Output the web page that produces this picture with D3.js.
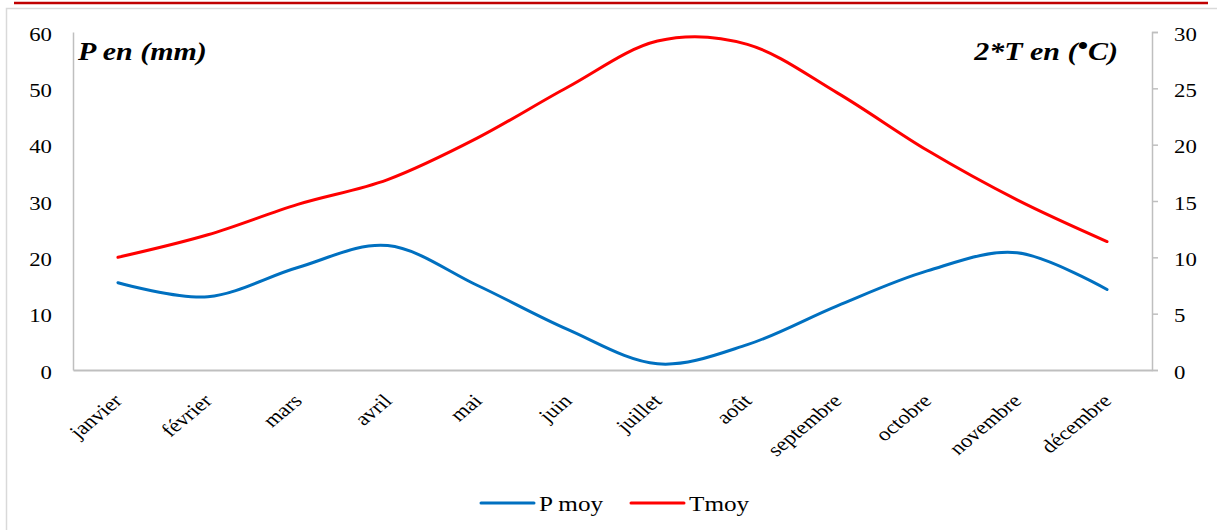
<!DOCTYPE html>
<html><head><meta charset="utf-8">
<script src="https://cdn.jsdelivr.net/npm/d3@7"></script>
<style>
html,body{margin:0;padding:0;background:#fff;}
svg{display:block;}
svg text{font-family:"Liberation Serif","Times New Roman",serif !important;}
</style></head>
<body>
<svg id="chart" width="1217" height="530"></svg>
<script>
const months = ["janvier","février","mars","avril","mai","juin","juillet","août","septembre","octobre","novembre","décembre"];
const pMoy = [15.5, 13.0, 18.2, 22.1, 15.0, 7.2, 1.1, 4.5, 11.4, 17.6, 20.8, 14.3];
const tMoy = [10.0, 12.0, 14.7, 16.9, 20.6, 25.1, 29.2, 28.9, 24.6, 19.5, 15.1, 11.4];
const leftTicks = [0, 10, 20, 30, 40, 50, 60];
const rightTicks = [0, 5, 10, 15, 20, 25, 30];
const seriesNames = ["P moy", "Tmoy"];
const seriesColors = ["#0070c0", "#ff0000"];

const SX = 1.2; // horizontal stretch of the original picture's text
const svg = d3.select("#chart");
const plot = {left: 73, right: 1152, top: 32, bottom: 370};

// frame & top decorative rule
svg.append("rect").attr("x", 6.5).attr("y", 8.5).attr("width", 1215).attr("height", 530)
  .attr("fill", "none").attr("stroke", "#d9d9d9").attr("stroke-width", 1.5);
svg.append("line").attr("x1", 14).attr("x2", 1208).attr("y1", 3).attr("y2", 3)
  .attr("stroke", "#c00000").attr("stroke-width", 2.5);

const x = d3.scalePoint().domain(months).range([plot.left, plot.right]).padding(0.5);
const yL = d3.scaleLinear().domain([0, 60]).range([plot.bottom, plot.top]);
const yR = d3.scaleLinear().domain([0, 30]).range([plot.bottom, plot.top]);

// left axis
const gL = svg.append("g").attr("transform", `translate(${plot.left},0)`)
  .call(d3.axisLeft(yL).tickValues(leftTicks).tickSize(0).tickPadding(21));
gL.select(".domain").attr("stroke", "#bfbfbf").attr("stroke-width", 1.5);
gL.selectAll("text").attr("font-size", 19).attr("fill", "#000")
  .attr("x", 0).attr("dy", null).attr("transform", `translate(-21,8) scale(${SX},1)`);

// right axis
const gR = svg.append("g").attr("transform", `translate(${plot.right},0)`)
  .call(d3.axisRight(yR).tickValues(rightTicks).tickSize(6).tickPadding(16));
gR.select(".domain").attr("stroke", "#bfbfbf").attr("stroke-width", 1.5);
gR.selectAll(".tick line").attr("stroke", "#bfbfbf").attr("stroke-width", 1.5);
gR.selectAll("text").attr("font-size", 19).attr("fill", "#000")
  .attr("x", 0).attr("dy", null).attr("transform", `translate(22,8) scale(${SX},1)`);

// bottom axis
const gB = svg.append("g").attr("transform", `translate(0,${plot.bottom})`)
  .call(d3.axisBottom(x).tickSize(0).tickPadding(0));
gB.select(".domain").attr("stroke", "#bfbfbf").attr("stroke-width", 2);
gB.selectAll("text")
  .attr("font-size", 19).attr("fill", "#000")
  .attr("text-anchor", "end").attr("dy", null).attr("y", 0).attr("x", 0)
  .attr("transform", `translate(5,32) scale(${SX},1) rotate(-45)`);

// axis titles
svg.append("text").attr("transform", `translate(78,60) scale(${SX},1)`).attr("font-size", 25)
  .attr("font-weight", "bold").attr("font-style", "italic").text("P en (mm)");
const t2 = svg.append("text").attr("transform", `translate(1118,60) scale(${SX},1)`)
  .attr("font-size", 25).attr("text-anchor", "end")
  .attr("font-weight", "bold").attr("font-style", "italic");
t2.append("tspan").text("2*T en (");
t2.append("tspan").attr("dy", -6).text("•");
t2.append("tspan").attr("dy", 6).text("C)");

// lines
const lineP = d3.line().x((d, i) => x(months[i])).y(d => yL(d)).curve(d3.curveCatmullRom.alpha(0));
const lineT = d3.line().x((d, i) => x(months[i])).y(d => yR(d)).curve(d3.curveCatmullRom.alpha(0));
svg.append("path").datum(pMoy).attr("d", lineP).attr("fill", "none")
  .attr("stroke", seriesColors[0]).attr("stroke-width", 3).attr("stroke-linecap", "round");
svg.append("path").datum(tMoy).attr("d", lineT).attr("fill", "none")
  .attr("stroke", seriesColors[1]).attr("stroke-width", 3).attr("stroke-linecap", "round");

// legend
const legX = [481, 631];
seriesNames.forEach((n, i) => {
  svg.append("line").attr("x1", legX[i]).attr("x2", legX[i] + 53).attr("y1", 503).attr("y2", 503)
    .attr("stroke", seriesColors[i]).attr("stroke-width", 3).attr("stroke-linecap", "round");
  svg.append("text").attr("transform", `translate(${legX[i] + 58},511) scale(${SX},1)`)
    .attr("font-size", 21).text(n);
});
</script>
</body></html>
